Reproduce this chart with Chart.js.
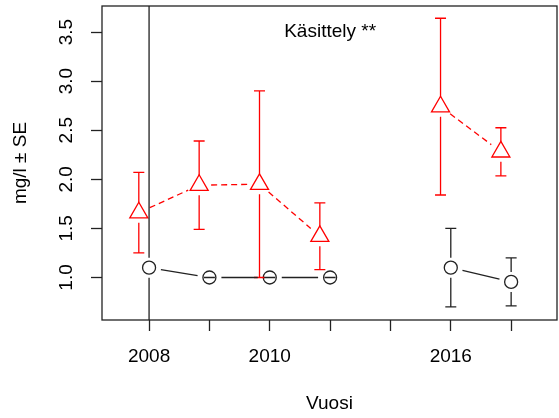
<!DOCTYPE html>
<html>
<head>
<meta charset="utf-8">
<script src="https://cdn.jsdelivr.net/npm/chart.js@4.4.1/dist/chart.umd.min.js"></script>
<style>
  html, body { margin: 0; padding: 0; background: #fff; }
  canvas { display: block; }
</style>
</head>
<body>
<canvas id="chart" width="559" height="418"></canvas>
<script>
// x positions of the sampled years (5 is the empty slot between 2011 and 2016)
const positions = [1, 2, 3, 4, 6, 7];
const tickPositions = [1, 2, 3, 4, 5, 6, 7];
const tickLabels = ['2008', '', '2010', '', '', '2016', ''];
const yTicks = [1.0, 1.5, 2.0, 2.5, 3.0, 3.5];

// treated plots (red triangles), drawn a little left of the year
const treatedMean = [1.66, 1.94, 1.95, 1.42, 2.74, 2.28];
const treatedSE = [0.41, 0.45, 0.95, 0.34, 0.90, 0.245];
const treatedShift = -0.17;

// control plots (black circles)
const controlMean = [1.10, 1.00, 1.00, 1.00, 1.10, 0.955];
const controlSE = [3.0, 0, 0, 0, 0.40, 0.245];

const FONT = '"Liberation Sans", Arial, sans-serif';
const INK = '#222';

function toPoints(shift, means) {
    return positions.map((p, i) => ({ x: p + shift, y: means[i] }));
}

// keep the plot box exactly where the axes put it
function noPadding(s) {
    s.paddingTop = 0;
    s.paddingBottom = 0;
    s.paddingLeft = 0;
    s.paddingRight = 0;
}

// R-style extras: gapped connecting lines, error bars, box, rotated y labels, note
const rPlot = {
    id: 'rPlot',
    afterDatasetsDraw(chart) {
        const { ctx, chartArea: a, scales: { x, y } } = chart;
        ctx.save();
        ctx.beginPath();
        ctx.rect(a.left, a.top, a.right - a.left, a.bottom - a.top);
        ctx.clip();
        ctx.lineWidth = 1.3;
        chart.data.datasets.forEach(ds => {
            const px = ds.data.map(d => ({ x: x.getPixelForValue(d.x), y: y.getPixelForValue(d.y) }));
            ctx.strokeStyle = ds.borderColor;

            // lines between consecutive years, leaving a gap round each point
            ctx.setLineDash(ds.dash);
            const g = 12;
            for (let i = 1; i < px.length; i++) {
                if (positions[i] - positions[i - 1] !== 1) continue;
                const p0 = px[i - 1], p1 = px[i];
                const dx = p1.x - p0.x, dy = p1.y - p0.y, len = Math.hypot(dx, dy);
                if (len <= 2 * g) continue;
                ctx.beginPath();
                ctx.moveTo(p0.x + dx * g / len, p0.y + dy * g / len);
                ctx.lineTo(p1.x - dx * g / len, p1.y - dy * g / len);
                ctx.stroke();
            }
            ctx.setLineDash([]);

            // ± SE bars with caps
            ds.se.forEach((se, i) => {
                const cx = px[i].x, cy = px[i].y;
                const top = y.getPixelForValue(ds.data[i].y + se);
                const bot = y.getPixelForValue(ds.data[i].y - se);
                const gap = 10, cap = 5.5;
                ctx.beginPath();
                if (cy - top > gap) { ctx.moveTo(cx, cy - gap); ctx.lineTo(cx, top); }
                if (bot - cy > gap) { ctx.moveTo(cx, cy + gap); ctx.lineTo(cx, bot); }
                ctx.moveTo(cx - cap, top); ctx.lineTo(cx + cap, top);
                ctx.moveTo(cx - cap, bot); ctx.lineTo(cx + cap, bot);
                ctx.stroke();
            });
        });
        ctx.restore();
    },
    afterDraw(chart) {
        const { ctx, chartArea: a, scales: { x, y } } = chart;
        ctx.save();
        ctx.strokeStyle = INK;
        ctx.lineWidth = 1.3;
        ctx.strokeRect(a.left, a.top, a.right - a.left, a.bottom - a.top);

        ctx.fillStyle = '#000';
        ctx.font = '19px ' + FONT;
        ctx.textAlign = 'center';
        ctx.textBaseline = 'middle';
        yTicks.forEach(v => {
            ctx.save();
            ctx.translate(67, y.getPixelForValue(v));
            ctx.rotate(-Math.PI / 2);
            ctx.fillText(v.toFixed(1), 0, 0);
            ctx.restore();
        });

        ctx.fillText('Käsittely **', x.getPixelForValue(4), y.getPixelForValue(3.5));
        ctx.restore();
    }
};

new Chart(document.getElementById('chart'), {
    type: 'scatter',
    data: {
        datasets: [
            {
                label: 'Käsittely',
                data: toPoints(treatedShift, treatedMean),
                se: treatedSE,
                dash: [6, 4],
                borderColor: '#ff0000',
                backgroundColor: 'transparent',
                pointStyle: 'triangle',
                pointRadius: 10.4,
                pointBorderWidth: 1.3
            },
            {
                label: 'Kontrolli',
                data: toPoints(0, controlMean),
                se: controlSE,
                dash: [],
                borderColor: INK,
                backgroundColor: 'transparent',
                pointStyle: 'circle',
                pointRadius: 6.5,
                pointBorderWidth: 1.3
            }
        ]
    },
    options: {
        responsive: false,
        animation: false,
        layout: { autoPadding: false, padding: { top: 6, right: 2, left: 0, bottom: 0 } },
        plugins: {
            legend: { display: false },
            tooltip: { enabled: false }
        },
        scales: {
            x: {
                type: 'linear',
                min: 0.22,
                max: 7.76,
                afterBuildTicks: s => { s.ticks = tickPositions.map(v => ({ value: v })); },
                afterFit: s => { s.height = 98; noPadding(s); },
                ticks: {
                    callback: (v, i) => tickLabels[i],
                    autoSkip: false,
                    maxRotation: 0,
                    padding: 14.6,
                    color: '#000',
                    font: { family: FONT, size: 19 }
                },
                grid: { drawOnChartArea: false, tickLength: 11, tickColor: INK, tickWidth: 1.3 },
                border: { display: false },
                title: {
                    display: true,
                    text: 'Vuosi',
                    color: '#000',
                    font: { family: FONT, size: 19 },
                    padding: { top: 0, bottom: 2.6 }
                }
            },
            y: {
                min: 0.567,
                max: 3.765,
                afterBuildTicks: s => { s.ticks = yTicks.map(v => ({ value: v })); },
                afterFit: s => { s.width = 102; noPadding(s); },
                ticks: { display: false },
                grid: { drawOnChartArea: false, tickLength: 11, tickColor: INK, tickWidth: 1.3 },
                border: { display: false },
                title: {
                    display: true,
                    text: 'mg/l ± SE',
                    color: '#000',
                    font: { family: FONT, size: 19 },
                    padding: { top: 9.6, bottom: 0 }
                }
            }
        }
    },
    plugins: [rPlot]
});
</script>
</body>
</html>
